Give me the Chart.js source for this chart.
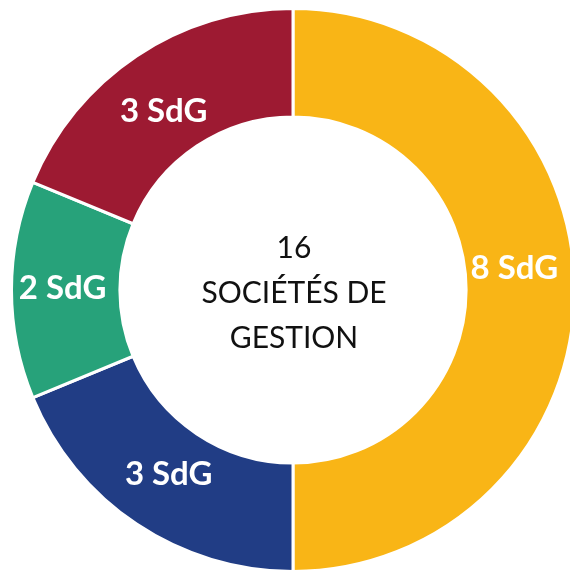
<!DOCTYPE html>
<html>
<head>
<meta charset="utf-8">
<script src="https://cdn.jsdelivr.net/npm/chart.js@4"></script>
<style>
  html, body { margin: 0; padding: 0; background: #ffffff; overflow: hidden; }
  #wrap { width: 570px; height: 570px; overflow: hidden; }
</style>
</head>
<body>
<div id="wrap"><canvas id="c" width="580" height="580"></canvas></div>
<script>
const categories = ["Catégorie A", "Catégorie B", "Catégorie C", "Catégorie D"];
const values = [8, 3, 2, 3];
const sliceLabels = ["8 SdG", "3 SdG", "2 SdG", "3 SdG"];
const colors = ["#F9B516", "#213D85", "#27A27A", "#9D1A32"];
const centerLines = ["16", "SOCIÉTÉS DE", "GESTION"];

const sliceLabelPlugin = {
  id: 'sliceLabels',
  afterDatasetsDraw(chart, args, opts) {
    const ctx = chart.ctx;
    const meta = chart.getDatasetMeta(0);
    ctx.save();
    ctx.fillStyle = '#ffffff';
    ctx.font = 'bold 33px Lato, "DejaVu Sans", sans-serif';
    ctx.textAlign = 'center';
    ctx.textBaseline = 'middle';
    meta.data.forEach((arc, i) => {
      const p = arc.getCenterPoint();
      const off = (opts.offsets && opts.offsets[i]) || [0, 0];
      ctx.fillText(sliceLabels[i], p.x + off[0], p.y + off[1]);
    });
    ctx.restore();
  }
};

const centerTextPlugin = {
  id: 'centerText',
  afterDatasetsDraw(chart) {
    const ctx = chart.ctx;
    const arc = chart.getDatasetMeta(0).data[0];
    const cx = arc.x, cy = arc.y;
    ctx.save();
    ctx.fillStyle = '#111111';
    ctx.font = '30px Lato, "DejaVu Sans", sans-serif';
    ctx.textAlign = 'center';
    ctx.textBaseline = 'middle';
    const lh = 45;
    centerLines.forEach((t, i) => {
      ctx.fillText(t, cx + 1, cy + 3 + (i - 1) * lh);
    });
    ctx.restore();
  }
};

new Chart(document.getElementById('c'), {
  type: 'doughnut',
  data: {
    labels: categories,
    datasets: [{
      data: values,
      backgroundColor: colors,
      borderColor: '#ffffff',
      borderWidth: 3,
      hoverOffset: 0
    }]
  },
  options: {
    responsive: false,
    animation: false,
    cutout: '61.5%',
    layout: { padding: { left: 10, right: 4, top: 7, bottom: 7 } },
    plugins: {
      legend: { display: false },
      tooltip: { enabled: false },
      sliceLabels: { offsets: [[-6, -22], [2, -5], [-3, -2], [-3, 10]] }
    }
  },
  plugins: [sliceLabelPlugin, centerTextPlugin]
});
</script>
</body>
</html>
